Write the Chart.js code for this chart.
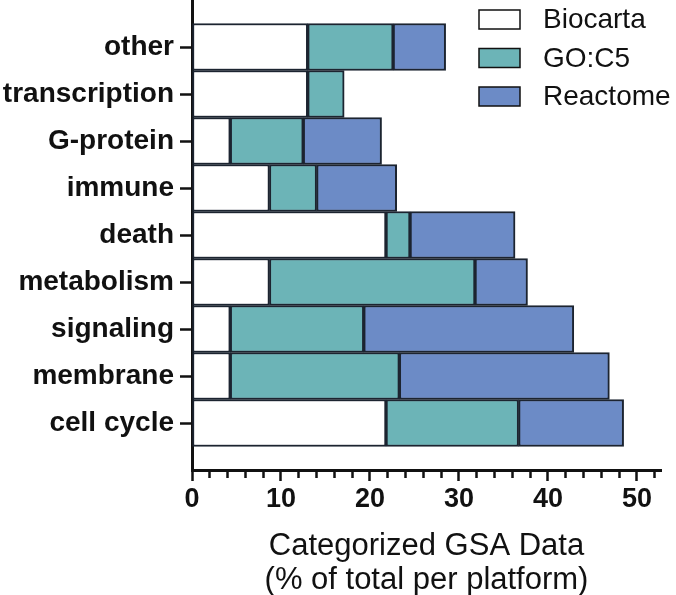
<!DOCTYPE html>
<html>
<head>
<meta charset="utf-8">
<script src="https://cdn.jsdelivr.net/npm/chart.js@4"></script>
<style>
  body { margin: 0; background: #fff; }
  #wrap { width: 676px; height: 595px; }
</style>
</head>
<body>
<div id="wrap"><canvas id="gsaChart"></canvas></div>
<script>
const categories = ['other', 'transcription', 'G-protein', 'immune', 'death', 'metabolism', 'signaling', 'membrane', 'cell cycle'];
const biocarta = [13.0, 13.0, 4.3, 8.7, 21.8, 8.7, 4.3, 4.3, 21.8];
const goC5     = [9.6, 4.1, 8.2, 5.3, 2.7, 23.1, 15.0, 19.0, 14.9];
const reactome = [5.9, 0, 8.8, 9.0, 11.8, 5.9, 23.6, 23.6, 11.8];
const seriesNames = ['Biocarta', 'GO:C5', 'Reactome'];
const xTicks = [0, 10, 20, 30, 40, 50];

const FONT = '"Liberation Sans", Arial, sans-serif';
const INK = '#111111';

// an empty slot above and below keeps the bars off the axes
const labels = ['', ...categories, ''];
const pad = arr => [null, ...arr, null];

// legend sits inside the plot, top right
const boxLegend = {
  id: 'boxLegend',
  afterDraw(chart) {
    const ctx = chart.ctx;
    ctx.save();
    ctx.font = '28px ' + FONT;
    ctx.textBaseline = 'middle';
    chart.data.datasets.forEach((ds, i) => {
      const y = 19.5 + i * 38.5;
      ctx.fillStyle = ds.backgroundColor;
      ctx.fillRect(479, y - 9.5, 41, 19);
      ctx.strokeStyle = INK;
      ctx.lineWidth = 1.5;
      ctx.strokeRect(479, y - 9.5, 41, 19);
      ctx.fillStyle = INK;
      ctx.fillText(ds.label, 543, y + 1);
    });
    ctx.restore();
  }
};

new Chart(document.getElementById('gsaChart'), {
  type: 'bar',
  data: {
    labels,
    datasets: [
      { label: seriesNames[0], data: pad(biocarta), backgroundColor: '#ffffff' },
      { label: seriesNames[1], data: pad(goC5), backgroundColor: '#6cb4b7' },
      { label: seriesNames[2], data: pad(reactome), backgroundColor: '#6c8bc6' }
    ]
  },
  options: {
    indexAxis: 'y',
    responsive: true,
    maintainAspectRatio: false,
    animation: false,
    layout: { padding: { top: 0, right: 15, bottom: 0, left: 0 } },
    datasets: {
      bar: { borderColor: '#1c2430', borderWidth: 2, borderSkipped: false, categoryPercentage: 1, barPercentage: 1 }
    },
    plugins: { legend: { display: false }, tooltip: { enabled: false } },
    scales: {
      x: {
        stacked: true,
        min: 0,
        max: 52.7,
        ticks: {
          stepSize: 2, includeBounds: false, autoSkip: false, maxRotation: 0, padding: 2,
          color: INK, font: { family: FONT, size: 27, weight: 'bold' },
          callback: v => xTicks.includes(v) ? String(v) : ''
        },
        grid: {
          drawOnChartArea: false, tickLength: 11, tickWidth: 2.5, tickColor: INK,
          tickBorderDash: c => (c.tick && xTicks.includes(c.tick.value)) ? [] : [6, 20]
        },
        border: { color: INK, width: 3 },
        title: {
          display: true,
          text: ['Categorized GSA Data', '(% of total per platform)'],
          color: INK,
          font: { family: FONT, size: 31, lineHeight: 1.1 },
          padding: { top: 0, bottom: -3 }
        },
        afterFit: s => { s.height = 125; }
      },
      y: {
        stacked: true,
        offset: false,
        ticks: { autoSkip: false, padding: 6, color: INK, font: { family: FONT, size: 28, weight: 'bold' } },
        grid: {
          offset: false, drawOnChartArea: false, tickLength: 12, tickWidth: 2.5,
          tickColor: c => (c.index === 0 || c.index === labels.length - 1) ? 'rgba(0,0,0,0)' : INK
        },
        border: { color: INK, width: 3 },
        afterFit: s => { s.width = 192; s.paddingTop = 0; s.paddingBottom = 0; }
      }
    }
  },
  plugins: [boxLegend]
});
</script>
</body>
</html>
